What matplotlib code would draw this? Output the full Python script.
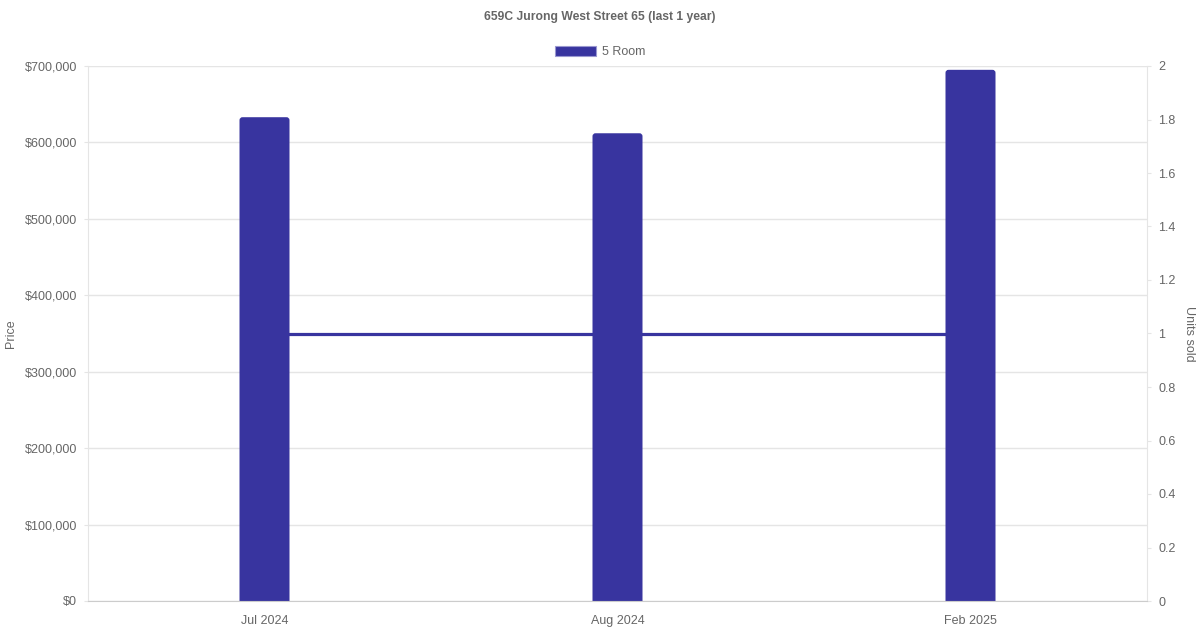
import matplotlib
matplotlib.use("Agg")
import matplotlib.pyplot as plt
from matplotlib.patches import Patch, FancyBboxPatch
from matplotlib.ticker import FuncFormatter, MultipleLocator

months = ["Jul 2024", "Aug 2024", "Feb 2025"]
prices = [633000, 612000, 695000]
units = [1, 1, 1]
series_name = "5 Room"
title = "659C Jurong West Street 65 (last 1 year)"

plt.rcParams['font.family'] = ['Liberation Sans', 'DejaVu Sans']
color = '#38349F'
grid_c = '#e5e5e5'
txt_c = '#666666'
fs = 9

fig = plt.figure(figsize=(12, 6.3), dpi=100)
ax = fig.add_axes([88/1200, 29/630, (1147-88)/1200, 535/630])
ax2 = ax.twinx()

x = list(range(len(months)))
ax.set_zorder(2)
ax.patch.set_visible(False)
ax.set_xlim(-0.5, len(months) - 0.5)
ax.set_ylim(0, 700000)
ax2.set_ylim(0, 2)

bars = ax.bar(x, prices, width=50/353, color=color, zorder=3)
# rounded top corners (bottom rounding hidden below the axis by clipping)
xpp = (len(months)) / 1059
ypp = 700000 / 535
r = 3 * xpp
ext = 5 * ypp
for b in bars:
    b.set_visible(False)
    p = FancyBboxPatch((b.get_x(), b.get_y() - ext), b.get_width(), b.get_height() + ext,
                       boxstyle=f"round,pad=0,rounding_size={r}",
                       mutation_aspect=ypp / xpp, facecolor=color, edgecolor='none', zorder=3)
    ax.add_patch(p)
ax2.plot(x, units, color=color, linewidth=2.3, zorder=1)

ax.yaxis.set_major_locator(MultipleLocator(100000))
ax.yaxis.set_major_formatter(FuncFormatter(lambda v, p: f"${int(v):,}"))
ax2.yaxis.set_major_locator(MultipleLocator(0.2))
ax2.yaxis.set_major_formatter(FuncFormatter(lambda v, p: f"{v:.1f}".rstrip('0').rstrip('.') if v else "0"))
ax.set_xticks(x)
ax.set_xticklabels(months, va='center')

ax.grid(axis='y', color=grid_c, linewidth=1, zorder=0)
ax.set_axisbelow(True)
for a in (ax, ax2):
    for s in a.spines.values():
        s.set_visible(False)
ax2.spines['right'].set_visible(True)
ax2.spines['right'].set_color(grid_c)
ax.spines['left'].set_visible(True)
ax.spines['left'].set_color(grid_c)
ax.spines['bottom'].set_visible(True)
ax.spines['bottom'].set_color('#cccccc')
ax.spines['bottom'].set_zorder(4)

ax.tick_params(axis='y', colors=txt_c, labelsize=fs, length=3, color=grid_c, pad=5)
ax.tick_params(axis='x', colors=txt_c, labelsize=fs, length=0, pad=14.5)
ax2.tick_params(axis='y', colors=txt_c, labelsize=fs, length=3, color=grid_c, pad=5)

ax.set_ylabel("Price", color=txt_c, fontsize=fs, va='center')
ax.yaxis.set_label_coords(-(88-11)/1059, 0.5)
ax2.set_ylabel("Units sold", color=txt_c, fontsize=fs, rotation=270, va='center')
ax2.yaxis.set_label_coords(1 + (1189-1147)/1059, 0.5)

fig.text(0.5, 1 - 17/630, title, ha='center', va='center', fontsize=8.75, fontweight='bold', color=txt_c)
fig.legend(handles=[Patch(facecolor=color, edgecolor='#9a98d0', linewidth=0.8)], labels=[series_name],
           loc='center', bbox_to_anchor=(0.5, 1 - 52/630), frameon=False, fontsize=fs,
           handlelength=3.3, handleheight=0.9, handletextpad=0.5, labelcolor=txt_c)

fig.savefig("out.png", dpi=100, facecolor='white')
